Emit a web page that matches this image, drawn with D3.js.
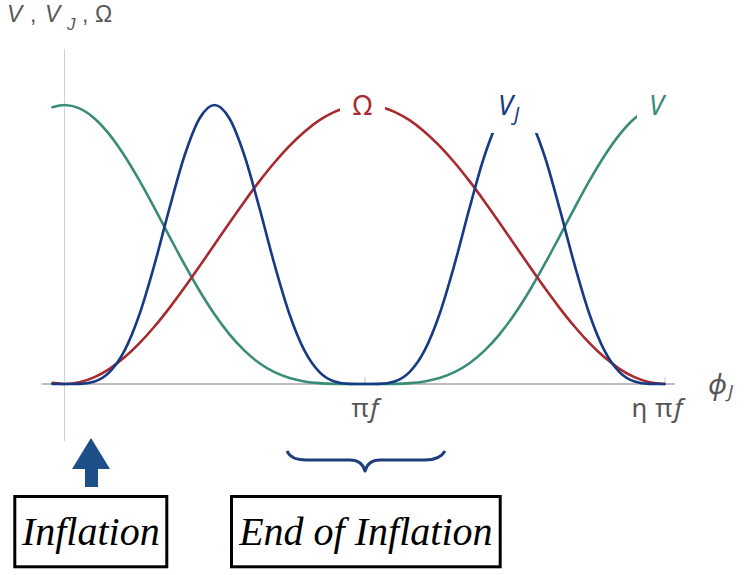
<!DOCTYPE html>
<html><head><meta charset="utf-8">
<script src="https://cdn.jsdelivr.net/npm/d3@7"></script>
<style>body{margin:0;background:#fff}svg{display:block}</style>
</head><body>
<svg id="c" width="747" height="575"></svg>
<script>
// field value in units of πf
const phi = [-0.04, 0, 0.05, 0.10, 0.15, 0.20, 0.25, 0.30, 0.35, 0.40, 0.45, 0.50, 0.55, 0.60, 0.65, 0.70, 0.75, 0.80, 0.85, 0.90, 0.95, 1.00,
  1.05, 1.10, 1.15, 1.20, 1.25, 1.30, 1.35, 1.40, 1.45, 1.50, 1.55, 1.60, 1.65, 1.70, 1.75, 1.80, 1.85, 1.90, 1.95, 2.00];
const omega = [0.0039, 0, 0.0062, 0.0245, 0.0545, 0.0955, 0.1464, 0.2061, 0.2730, 0.3455, 0.4218, 0.5, 0.5782, 0.6545, 0.7270, 0.7939, 0.8536, 0.9045, 0.9455, 0.9755, 0.9938, 1,
  0.9938, 0.9755, 0.9455, 0.9045, 0.8536, 0.7939, 0.7270, 0.6545, 0.5782, 0.5, 0.4218, 0.3455, 0.2730, 0.2061, 0.1464, 0.0955, 0.0545, 0.0245, 0.0062, 0];
const potV = [0.9921, 1, 0.9877, 0.9517, 0.8940, 0.8181, 0.7286, 0.6303, 0.5285, 0.4284, 0.3343, 0.25, 0.1779, 0.1194, 0.0745, 0.0425, 0.0215, 0.0091, 0.0030, 0.0006, 0.0000, 0,
  0.0000, 0.0006, 0.0030, 0.0091, 0.0215, 0.0425, 0.0745, 0.1194, 0.1779, 0.25, 0.3343, 0.4284, 0.5285, 0.6303, 0.7286, 0.8181, 0.8940, 0.9517, 0.9877, 1];
const potVJ = [0.0002, 0, 0.0006, 0.0091, 0.0425, 0.1194, 0.25, 0.4284, 0.6303, 0.8181, 0.9517, 1, 0.9517, 0.8181, 0.6303, 0.4284, 0.25, 0.1194, 0.0425, 0.0091, 0.0006, 0,
  0.0006, 0.0091, 0.0425, 0.1194, 0.25, 0.4284, 0.6303, 0.8181, 0.9517, 1, 0.9517, 0.8181, 0.6303, 0.4284, 0.25, 0.1194, 0.0425, 0.0091, 0.0006, 0];
const xTickValues = [1, 2];
const xTickLabels = [["", "π", "f"], ["η", "π", "f"]];
const boxLabels = ["Inflation", "End of Inflation"];

const svg = d3.select("#c");
const x = d3.scaleLinear().domain([0, 2]).range([64.5, 664.5]);
const y = d3.scaleLinear().domain([0, 1]).range([384, 105]);

const gray = "#575757";
const cGreen = "#3a8c78", cBlue = "#163a84", cRed = "#a8292e";
const F = "Noto Sans, sans-serif";

// axes
svg.append("line").attr("x1", x(0)).attr("x2", x(0)).attr("y1", 49).attr("y2", 441)
  .attr("stroke", "#d2d2d2").attr("stroke-width", 1);
svg.append("line").attr("x1", x(-0.075)).attr("x2", x(2.035)).attr("y1", y(0)).attr("y2", y(0))
  .attr("stroke", "#a8a8a8").attr("stroke-width", 1.5);

const ax = svg.append("g").attr("transform", `translate(0,${y(0)})`)
  .call(d3.axisBottom(x).tickValues(xTickValues).tickSizeInner(-7).tickSizeOuter(0).tickPadding(15).tickFormat(() => ""));
ax.select(".domain").remove();
ax.selectAll(".tick line").attr("stroke", "#c4c4c4").attr("stroke-width", 1);
ax.selectAll(".tick text").each(function(d, i) {
  const t = d3.select(this).attr("font-family", F).attr("font-size", 26).attr("fill", gray);
  const [a, b, c] = xTickLabels[i];
  if (a) t.append("tspan").text(a);
  t.append("tspan").attr("dx", a ? 8 : 0).text(b);
  t.append("tspan").attr("font-style", "italic").attr("dx", 2).text(c);
});
ax.selectAll(".tick text").attr("dx", (d, i) => i === 0 ? -3 : -8);

// curves
const line = vals => d3.line().x((d, i) => x(phi[i])).y(d => y(d)).curve(d3.curveMonotoneX)(vals);
[[potV, cGreen], [omega, cRed], [potVJ, cBlue]].forEach(([vals, col]) => {
  svg.append("path").attr("d", line(vals)).attr("fill", "none").attr("stroke", col)
    .attr("stroke-width", 2.6).attr("stroke-linecap", "round");
});

// label backgrounds
[[340, 85, 45, 42], [486, 84, 54, 49], [637, 84, 50, 42]].forEach(([bx, by, bw, bh]) => {
  svg.append("rect").attr("x", bx).attr("y", by).attr("width", bw).attr("height", bh).attr("fill", "#fff");
});

// curve labels
svg.append("text").attr("x", 362.5).attr("y", 115).attr("text-anchor", "middle").attr("font-family", F)
  .attr("font-size", 27).attr("fill", cRed).text("Ω");
const vj = svg.append("text").attr("x", 498).attr("y", 115).attr("font-family", F).attr("font-size", 27).attr("fill", cBlue);
vj.append("tspan").attr("font-style", "italic").text("V");
vj.append("tspan").attr("font-style", "italic").attr("font-size", 19).attr("dy", 6).attr("dx", 1).text("J");
svg.append("text").attr("x", 649).attr("y", 115).attr("font-family", F).attr("font-size", 27)
  .attr("font-style", "italic").attr("fill", cGreen).text("V");

// axis titles
const yt = svg.append("text").attr("y", 21.5).attr("font-family", "Liberation Sans, Arial, sans-serif")
  .attr("font-size", 23).attr("fill", gray);
yt.append("tspan").attr("x", 7).attr("font-style", "italic").text("V");
yt.append("tspan").attr("x", 30).text(",");
yt.append("tspan").attr("x", 45).attr("font-style", "italic").text("V");
yt.append("tspan").attr("x", 67).attr("font-style", "italic").attr("font-size", 17).attr("dy", 8).text("J");
yt.append("tspan").attr("x", 82).attr("dy", -8).text(",");
yt.append("tspan").attr("x", 95).text("Ω");

const xt = svg.append("text").attr("x", 708).attr("y", 394).attr("font-family", F).attr("font-size", 28).attr("fill", gray);
xt.append("tspan").attr("font-style", "italic").text("ϕ");
xt.append("tspan").attr("font-style", "italic").attr("font-size", 18).attr("dy", 4).attr("dx", 1).text("J");

// annotations
svg.append("path").attr("d", "M91,438 L110,469 L98,469 L98,487 L85,487 L85,469 L72,469 Z").attr("fill", "#1d4f88");
svg.append("path")
  .attr("d", "M287,451 Q291,460 306,460 L350,460 Q362,460 365,471 Q368,460 380,460 L425,460 Q440,460 445,451")
  .attr("fill", "none").attr("stroke", "#1f3f7a").attr("stroke-width", 3).attr("stroke-linejoin", "round");

[[14.8, 152], [231.5, 268.7]].forEach(([bx, bw], i) => {
  svg.append("rect").attr("x", bx).attr("y", 496.5).attr("width", bw).attr("height", 70.3)
    .attr("fill", "none").attr("stroke", "#000").attr("stroke-width", 3);
  svg.append("text").attr("x", bx + bw / 2).attr("y", 545).attr("text-anchor", "middle")
    .attr("font-family", "Liberation Serif, serif").attr("font-style", "italic").attr("font-size", 40)
    .attr("fill", "#000").text(boxLabels[i]);
});
</script>
</body></html>
